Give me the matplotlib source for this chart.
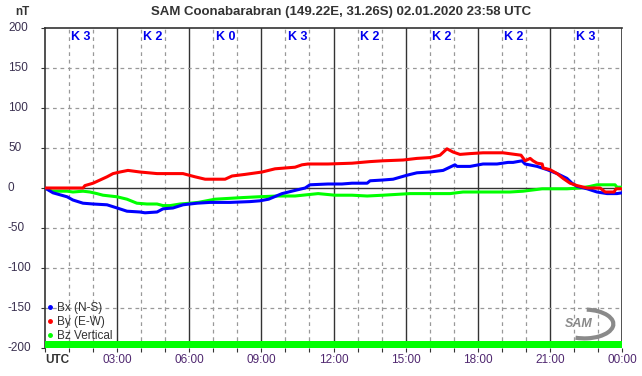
import matplotlib.pyplot as plt
import matplotlib.transforms as mtransforms
from matplotlib.patches import Arc, Rectangle
from matplotlib.lines import Line2D

plt.rcParams["font.family"] = ["Liberation Sans", "DejaVu Sans"]

# magnetometer components, hours UTC vs nT
bx_hours = [0.0, 0.33, 0.92, 1.16, 1.58, 2.0, 2.58, 3.0, 3.41, 3.95, 4.16, 4.66, 4.91,
            5.32, 5.74, 6.32, 6.86, 7.7, 8.53, 8.94, 9.3, 9.86, 10.4, 10.82, 11.02,
            11.77, 12.35, 12.77, 13.4, 13.52, 14.06, 14.48, 15.06, 15.47, 16.01, 16.56,
            17.05, 17.14, 17.68, 18.22, 18.8, 19.26, 19.47, 19.84, 19.97, 20.47, 20.88,
            21.3, 21.71, 21.92, 22.13, 22.55, 22.96, 23.38, 23.79, 24.0]
bx_values = [0, -6, -11, -15, -19, -20, -21, -25, -29, -30, -31, -30, -26,
             -25, -21, -19, -18, -18, -17, -16, -14, -7, -3, 0, 4,
             5, 5, 6, 6, 9, 10, 11, 16, 19, 20, 22,
             29, 27, 27, 30, 30, 32, 32, 34, 30, 27, 23,
             18, 12, 6, 2, -1, -5, -7, -7, -6]

by_hours = [0.0, 1.58, 1.66, 2.0, 2.29, 2.58, 2.83, 3.12, 3.45, 3.95, 4.66, 5.74, 6.24,
            6.66, 7.49, 7.78, 8.32, 9.03, 9.57, 10.4, 10.69, 10.94, 11.77, 12.77, 13.52,
            14.06, 14.9, 15.47, 16.01, 16.43, 16.72, 16.97, 17.26, 17.68, 18.22, 19.05,
            19.8, 19.97, 20.18, 20.3, 20.47, 20.68, 20.72, 21.0, 21.3, 21.55, 21.84,
            22.13, 22.55, 23.09, 23.3, 23.67, 23.75, 24.0]
by_values = [0, 0, 3, 6, 10, 14, 18, 20, 22, 20, 18, 18, 14,
             11, 11, 15, 17, 20, 24, 26, 29, 30, 30, 31, 33,
             34, 35, 37, 38, 41, 49, 45, 42, 43, 44, 44,
             41, 34, 37, 34, 31, 30, 25, 23, 18, 12, 6,
             3, 0, 0, -5, -5, -1, -1]

bz_hours = [0.0, 0.29, 0.92, 1.16, 1.58, 1.87, 2.16, 2.41, 3.0, 3.41, 3.82, 4.24, 4.66,
            4.91, 5.2, 5.62, 6.03, 6.37, 7.07, 8.2, 8.86, 9.69, 10.4, 11.36, 12.06,
            12.77, 13.4, 14.06, 15.18, 16.85, 17.39, 18.22, 19.34, 19.88, 20.68, 21.71,
            22.26, 22.67, 22.96, 23.71, 23.79, 24.0]
bz_values = [0, -4, -4, -5, -4, -5, -7, -9, -11, -14, -19, -20, -20,
             -22, -22, -20, -19, -18, -14, -12, -11, -10, -10, -7, -9,
             -9, -10, -9, -7, -7, -5, -5, -5, -4, -1, -1,
             0, 2, 4, 4, 1, 1]

k_index = [3, 2, 0, 3, 2, 2, 2, 3]
y_ticks = [200, 150, 100, 50, 0, -50, -100, -150, -200]
x_labels = ["UTC", "03:00", "06:00", "09:00", "12:00", "15:00", "18:00", "21:00", "00:00"]

fig = plt.figure(figsize=(6.42, 3.76), dpi=100)
ax = fig.add_axes([45 / 642, 28 / 376, 577 / 642, 320 / 376])
ax.set_xlim(0, 24)
ax.set_ylim(-200, 200)

# grid: dashed hourly / 50 nT, solid every 3 h and at zero
for h in range(1, 24):
    if h % 3:
        ax.axvline(h, color="#999999", lw=0.9, ls=(0, (3, 3)), zorder=1)
    else:
        ax.axvline(h, color="#333333", lw=1.0, zorder=1)
ax.axvline(24, color="#333333", lw=1.2, zorder=1)
for v in [150, 100, 50, -50, -100, -150]:
    ax.axhline(v, color="#999999", lw=0.9, ls=(0, (3, 3)), zorder=1)
ax.axhline(0, color="#333333", lw=1.0, zorder=1)

# data availability band
ax.add_patch(Rectangle((0, -200), 24, 8.5, color="#00ff00", lw=0, zorder=3))

ax.plot(bz_hours, bz_values, color="#00ff00", lw=2.2, zorder=4)
ax.plot(bx_hours, bx_values, color="#0000ff", lw=2.2, zorder=5)
ax.plot(by_hours, by_values, color="#ff0000", lw=2.2, zorder=6)

for i, k in enumerate(k_index):
    ax.text(3 * i + 1.5, 189, f"K {k}", color="#0000ee", fontsize=9, fontweight="bold",
            ha="center", va="center", zorder=7)

for s in ["right", "bottom"]:
    ax.spines[s].set_visible(False)
for s in ["left", "top"]:
    ax.spines[s].set_color("#333333")
    ax.spines[s].set_linewidth(1.2)

ax.set_yticks(y_ticks)
ax.set_yticklabels([])
ax.tick_params(axis="y", length=3, color="#333333")
ax.set_xticks(range(25))
ax.set_xticklabels([])
ax.tick_params(axis="x", length=3, color="#333333")

trans = mtransforms.blended_transform_factory(fig.transFigure, ax.transData)
for v in y_ticks:
    ax.text(8 / 642, v, str(v), transform=trans, ha="left", va="center",
            fontsize=8.5, color="#3a3050")

xtrans = mtransforms.blended_transform_factory(ax.transData, fig.transFigure)
for i, lab in enumerate(x_labels):
    if i == 0:
        ax.text(0, 1 - 360 / 376, lab, transform=xtrans, ha="left", va="center",
                fontsize=8.5, fontweight="bold", color="#333333")
    else:
        ax.text(3 * i, 1 - 360 / 376, lab, transform=xtrans, ha="center", va="center",
                fontsize=8.5, color="#502870")

fig.text(341 / 642, 1 - 12 / 376, "SAM Coonabarabran (149.22E, 31.26S) 02.01.2020 23:58 UTC",
         ha="center", va="center", fontsize=9.5, fontweight="bold", color="#333333")
fig.text(15 / 642, 1 - 12 / 376, "nT", ha="left", va="center", fontsize=8.5,
         fontweight="bold", color="#333333")

handles = [Line2D([], [], marker="o", ms=2.5, ls="", color=c)
           for c in ["#0000ff", "#ff0000", "#00ff00"]]
ax.legend(handles, ["Bx (N-S)", "By (E-W)", "Bz Vertical"], loc="lower left",
          bbox_to_anchor=(0.0, 0.015), frameon=False, fontsize=8.5, labelspacing=0.15,
          handlelength=0.6, handletextpad=0.3, borderpad=0.1, borderaxespad=0.0,
          labelcolor="#333333")

# SAM logo
logo = ax.transAxes
ax.add_patch(Arc((0.935, 0.075), 0.1, 0.09, theta1=-110, theta2=85, lw=3,
                 color="#8a8a8a", transform=logo, zorder=2))
ax.text(0.925, 0.075, "SAM", transform=logo, ha="center", va="center",
        fontsize=9, fontstyle="italic", fontweight="bold", color="#8a8a8a", zorder=2)

fig.savefig("out.png", dpi=100)
